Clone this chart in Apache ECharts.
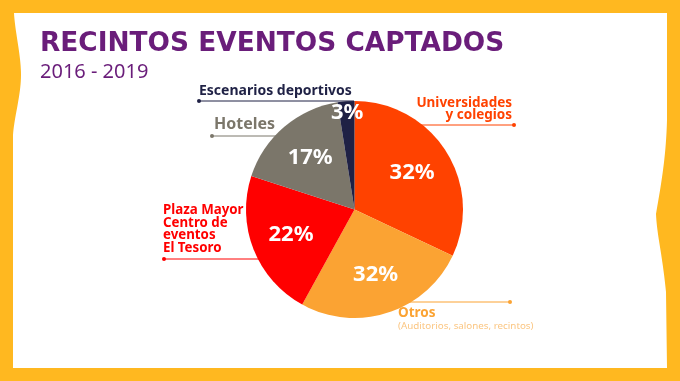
<!DOCTYPE html>
<html>
<head>
<meta charset="utf-8">
<script src="https://cdn.jsdelivr.net/npm/echarts@6/dist/echarts.min.js"></script>
<style>
html,body{margin:0;padding:0;background:#fff;}
#chart{width:680px;height:381px;}
</style>
</head>
<body>
<div id="chart"></div>
<script>
// Data
var categories = ['Universidades y colegios', 'Otros', 'Plaza Mayor Centro de eventos El Tesoro', 'Hoteles', 'Escenarios deportivos'];
var sliceValues = [32, 26, 22, 17.5, 2.5];           // slice sizes as drawn
var shownLabels = ['32%', '32%', '22%', '17%', '3%']; // labels printed on slices
var sliceColors = ['#FF4200', '#FBA333', '#FF0000', '#7B766A', '#1F2145'];
var titleText = 'RECINTOS EVENTOS CAPTADOS';
var subtitleText = '2016 - 2019';

var chart = echarts.init(document.getElementById('chart'), null, {renderer: 'canvas'});
var FONT = '"Noto Sans", sans-serif';
var center = [354.5, 209.5];
var R = 108.5;

var mainData = categories.map(function (c, i) {
  return {name: c, value: sliceValues[i], itemStyle: {color: sliceColors[i]}};
});
var labelData = categories.map(function (c, i) {
  var d = {name: c, value: sliceValues[i]};
  if (i === 4) d.label = {offset: [-2, -29]};
  return d;
});

// frame outline: sample cubic bezier segments into polygon points
function bez(p0, p1, p2, p3, n) {
  var pts = [];
  for (var k = 1; k <= n; k++) {
    var t = k / n, u = 1 - t;
    pts.push([
      u*u*u*p0[0] + 3*u*u*t*p1[0] + 3*u*t*t*p2[0] + t*t*t*p3[0],
      u*u*u*p0[1] + 3*u*u*t*p1[1] + 3*u*t*t*p2[1] + t*t*t*p3[1]
    ]);
  }
  return pts;
}
var framePts = [[14, 13], [667, 13], [667, 120]];
framePts = framePts.concat(bez([667,120],[666,160],[660,190],[656,214], 20));
framePts = framePts.concat(bez([656,214],[657,236],[662,252],[666,292], 20));
framePts.push([667, 368], [13, 368], [13, 135]);
framePts = framePts.concat(bez([13,135],[14,118],[21,95],[21,75], 20));
framePts = framePts.concat(bez([21,75],[21,55],[15,32],[14,13], 20));

function dot(x, y, color) {
  return {type: 'circle', z: 1, shape: {cx: x, cy: y, r: 2}, style: {fill: color}};
}
function hline(x1, x2, y, color) {
  return {type: 'line', z: 1, shape: {x1: x1, y1: y, x2: x2, y2: y}, style: {stroke: color, lineWidth: 1}};
}
function txt(x, y, s, color, size, weight, align, lh, family) {
  return {type: 'text', z: 3, x: x, y: y, style: {text: s, fill: color, font: weight + ' ' + size + 'px ' + (family || FONT), align: align || 'left', verticalAlign: 'top', lineHeight: lh || size * 1.2}};
}

var option = {
  backgroundColor: '#fff',
  animation: false,
  graphic: [
    {type: 'rect', z: -10, shape: {x: 0, y: 0, width: 680, height: 381}, style: {fill: '#FFB820'}},
    {type: 'polygon', z: -9, shape: {points: framePts}, style: {fill: '#ffffff'}},
    txt(40, 29, titleText, '#6A1D7A', 26.4, 'bold', 'left', 31, '"DejaVu Sans", sans-serif'),
    txt(40, 60, subtitleText, '#6A1D7A', 20, 'normal'),

    hline(199, 354, 101, '#1F2145'), dot(199, 101, '#1F2145'),
    txt(199, 83, 'Escenarios deportivos', '#1F2145', 14, 'bold'),

    hline(212, 300, 136, '#7B766A'), dot(212, 136, '#7B766A'),
    txt(214, 115, 'Hoteles', '#7B766A', 16, 'bold'),

    hline(164, 280, 259, '#FF0000'), dot(164, 259, '#FF0000'),
    txt(163, 204, 'Plaza Mayor\nCentro de\neventos\nEl Tesoro', '#FF0000', 13.3, 'bold', 'left', 12.5),

    hline(400, 514, 125, '#FF4200'), dot(514, 125, '#FF4200'),
    txt(512, 97, 'Universidades\ny colegios', '#FF4200', 13.5, 'bold', 'right', 12),

    hline(380, 510, 302, '#FBA333'), dot(510, 302, '#FBA333'),
    txt(398, 305, 'Otros', '#FBA333', 13.5, 'bold'),
    txt(398, 320, '(Auditorios, salones, recintos)', '#FBC682', 9.8, 'normal')
  ],
  series: [
    {
      type: 'pie', z: 2, silent: true,
      center: center, radius: [0, R], startAngle: 90, clockwise: true,
      label: {show: false}, labelLine: {show: false},
      itemStyle: {borderWidth: 0},
      data: mainData
    },
    {
      type: 'pie', z: 4, silent: true,
      center: center, radius: [22, R], startAngle: 90, clockwise: true,
      itemStyle: {color: 'rgba(0,0,0,0)'},
      label: {
        show: true, position: 'inside', color: '#ffffff',
        fontFamily: FONT, fontWeight: 'bold', fontSize: 22,
        formatter: function (p) { return shownLabels[p.dataIndex]; }
      },
      labelLine: {show: false},
      data: labelData
    }
  ]
};
chart.setOption(option);
</script>
</body>
</html>
